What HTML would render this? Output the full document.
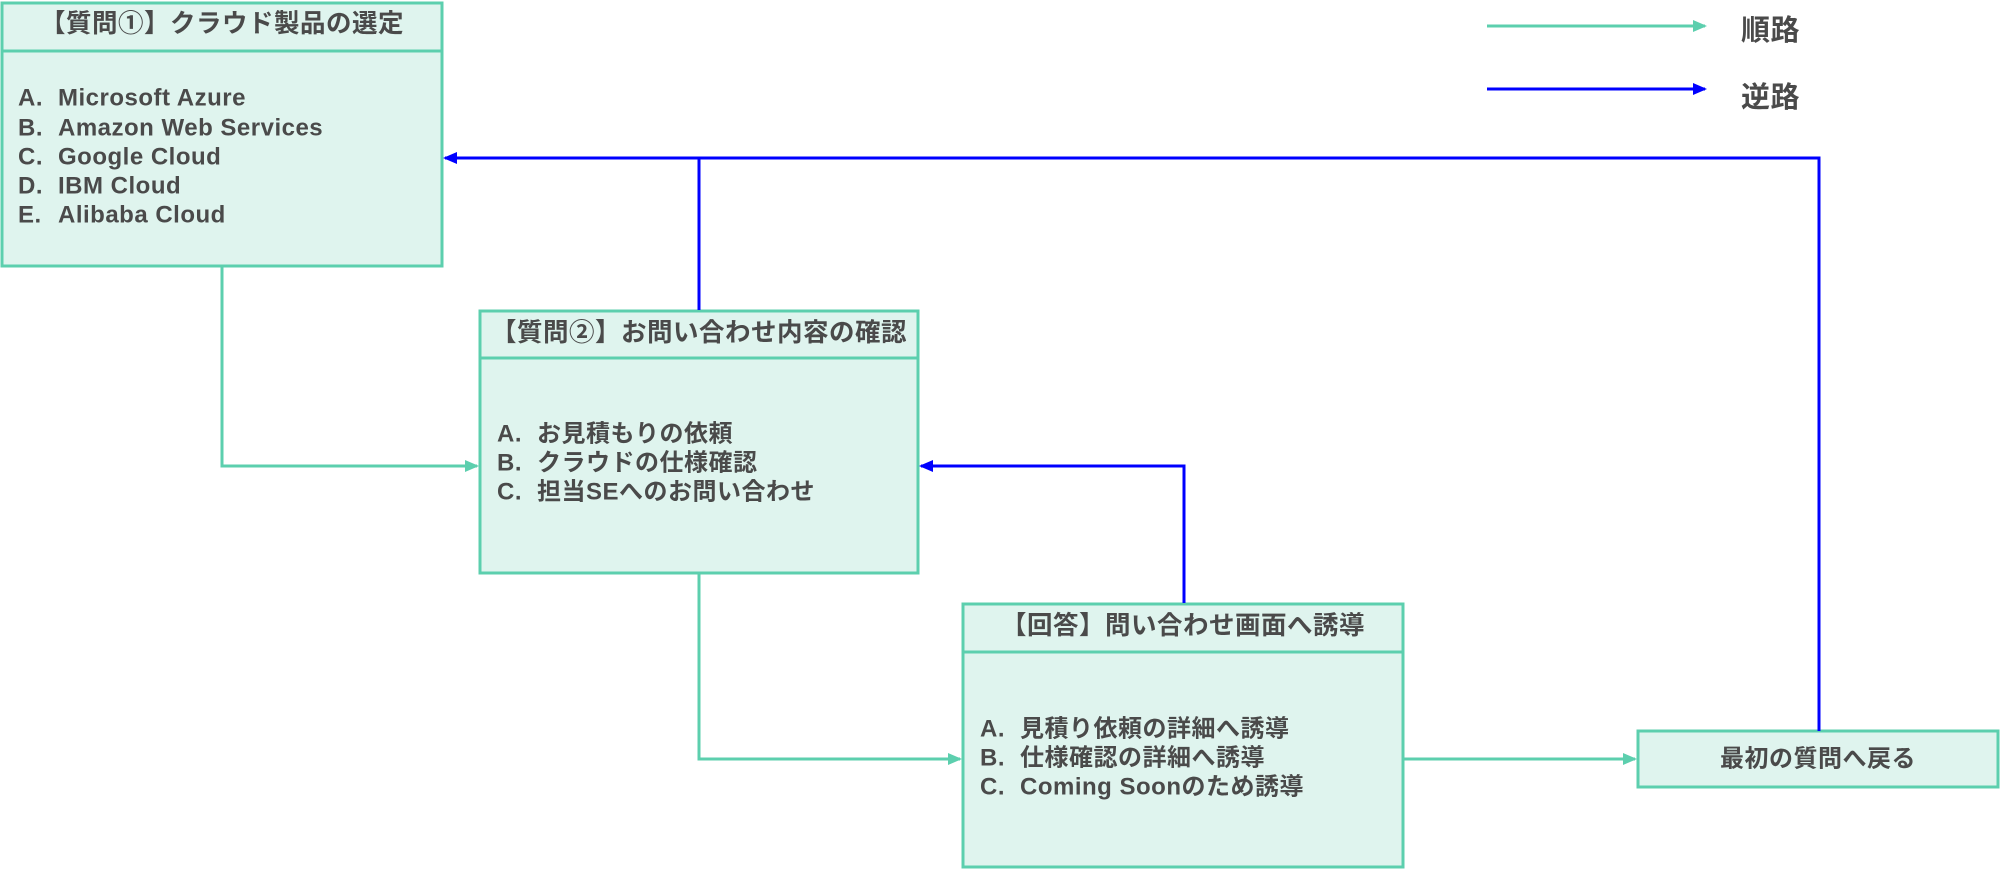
<!DOCTYPE html>
<html><head><meta charset="utf-8"><style>
html,body{margin:0;padding:0;background:#fff;}
svg{display:block;}
text{font-family:"Liberation Sans","Noto Sans CJK JP",sans-serif;font-weight:bold;fill:#4a4a4a;font-size:24px;letter-spacing:0.5px;dominant-baseline:central;}
.t{font-size:25.5px;letter-spacing:0.5px;}
</style></head><body>
<svg width="2000" height="869" viewBox="0 0 2000 869" xmlns="http://www.w3.org/2000/svg">
<defs>
<marker id="g" markerWidth="14" markerHeight="14" refX="12" refY="6" orient="auto" markerUnits="userSpaceOnUse"><path d="M0,0 L14,6 L0,12 z" fill="#5ccfae"/></marker>
<marker id="b" markerWidth="14" markerHeight="14" refX="12" refY="6" orient="auto" markerUnits="userSpaceOnUse"><path d="M0,0 L14,6 L0,12 z" fill="#0000ff"/></marker>
</defs>
<g fill="#dff4ee" stroke="#5ccfae" stroke-width="3">
<rect x="2" y="3" width="440" height="263"/><line x1="2" y1="51" x2="442" y2="51"/>
<rect x="480" y="311" width="438" height="262"/><line x1="480" y1="358" x2="918" y2="358"/>
<rect x="963" y="604" width="440" height="263"/><line x1="963" y1="652" x2="1403" y2="652"/>
<rect x="1638" y="731" width="360" height="56"/>
</g>
<g fill="none" stroke-width="3">
<line x1="1487" y1="26" x2="1705" y2="26" stroke="#5ccfae" marker-end="url(#g)"/>
<line x1="1487" y1="89" x2="1705" y2="89" stroke="#0000ff" marker-end="url(#b)"/>
<polyline points="1819,731 1819,158 445,158" stroke="#0000ff" marker-end="url(#b)"/>
<line x1="699" y1="158" x2="699" y2="310" stroke="#0000ff"/>
<polyline points="222,266 222,466 477,466" stroke="#5ccfae" marker-end="url(#g)"/>
<polyline points="1184,603 1184,466 921,466" stroke="#0000ff" marker-end="url(#b)"/>
<polyline points="699,573 699,759 960,759" stroke="#5ccfae" marker-end="url(#g)"/>
<line x1="1403" y1="759" x2="1635" y2="759" stroke="#5ccfae" marker-end="url(#g)"/>
</g>
<text x="1741" y="31" style="font-size:29px">順路</text>
<text x="1741" y="98" style="font-size:29px">逆路</text>
<text class="t" x="222" y="24" text-anchor="middle">【質問①】クラウド製品の選定</text>
<text x="18" y="98">A.</text><text x="58" y="98">Microsoft Azure</text>
<text x="18" y="128">B.</text><text x="58" y="128">Amazon Web Services</text>
<text x="18" y="157">C.</text><text x="58" y="157">Google Cloud</text>
<text x="18" y="186">D.</text><text x="58" y="186">IBM Cloud</text>
<text x="18" y="215">E.</text><text x="58" y="215">Alibaba Cloud</text>
<text class="t" x="699" y="333" text-anchor="middle">【質問②】お問い合わせ内容の確認</text>
<text x="497" y="434">A.</text><text x="537" y="434">お見積もりの依頼</text>
<text x="497" y="463">B.</text><text x="537" y="463">クラウドの仕様確認</text>
<text x="497" y="492">C.</text><text x="537" y="492">担当SEへのお問い合わせ</text>
<text class="t" x="1183" y="626" text-anchor="middle">【回答】問い合わせ画面へ誘導</text>
<text x="980" y="729">A.</text><text x="1020" y="729">見積り依頼の詳細へ誘導</text>
<text x="980" y="758">B.</text><text x="1020" y="758">仕様確認の詳細へ誘導</text>
<text x="980" y="787">C.</text><text x="1020" y="787">Coming Soonのため誘導</text>
<text x="1818" y="759" text-anchor="middle">最初の質問へ戻る</text>
</svg>
</body></html>
